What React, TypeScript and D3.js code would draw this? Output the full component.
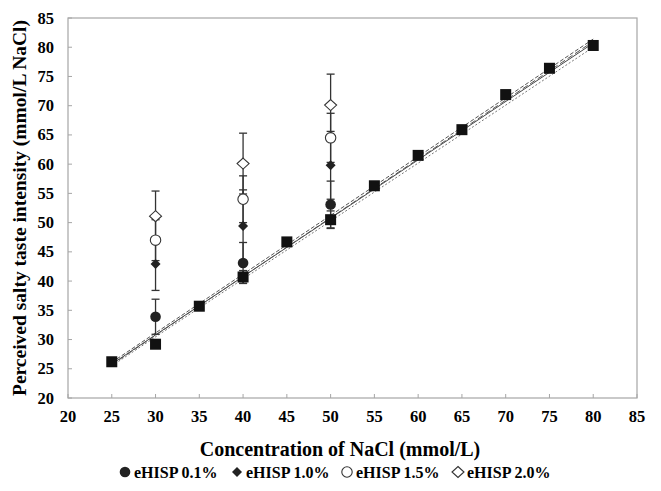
import React from "react";
import * as d3 from "d3";

// x positions (mmol/L NaCl)
const conc = [25, 30, 35, 40, 45, 50, 55, 60, 65, 70, 75, 80];
// NaCl control (filled squares)
const nacl = [26.2, 29.2, 35.7, 40.7, 46.7, 50.5, 56.3, 61.5, 65.9, 71.9, 76.4, 80.3];
const naclErr = [0, 0, 0, 1.1, 0, 1.5, 0, 0, 0, 0, 0, 0];

// eHISP series, measured only at 30, 40 and 50
const hispConc = [30, 40, 50];
const hisp01 = [33.9, 43.1, 53.1];
const hisp01Err = [3.0, 3.5, 4.0];
const hisp10 = [42.9, 49.4, 59.8];
const hisp10Err = [4.5, 6.2, 5.8];
const hisp15 = [47.0, 54.0, 64.5];
const hisp15Err = [3.5, 4.0, 4.2];
const hisp20 = [51.1, 60.1, 70.1];
const hisp20Err = [4.3, 5.2, 5.3];

// fitted lines (value at 25 and at 80)
const fitStart = [25.8, 26.1, 25.5, 25.7];
const fitEnd = [80.7, 81.4, 80.0, 81.0];

const xTicks = d3.range(20, 86, 5);
const yTicks = d3.range(20, 86, 5);

const legendLabels = ["eHISP 0.1%", "eHISP 1.0%", "eHISP 1.5%", "eHISP 2.0%"];

const FONT = "'Liberation Serif', 'Times New Roman', serif";

function Marker({ kind, x, y }: { kind: string; x: number; y: number }) {
  if (kind === "square")
    return <rect x={x - 5.5} y={y - 5.5} width={11} height={11} fill="#111" />;
  if (kind === "circle") return <circle cx={x} cy={y} r={5.3} fill="#222" />;
  if (kind === "diamond")
    return (
      <path d={`M${x},${y - 5}L${x + 5},${y}L${x},${y + 5}L${x - 5},${y}Z`} fill="#222" />
    );
  if (kind === "ocircle")
    return <circle cx={x} cy={y} r={5.2} fill="#fff" stroke="#333" strokeWidth={1.1} />;
  return (
    <path
      d={`M${x},${y - 5.5}L${x + 6},${y}L${x},${y + 5.5}L${x - 6},${y}Z`}
      fill="#fff"
      stroke="#333"
      strokeWidth={1.1}
    />
  );
}

export default function App() {
  const width = 661;
  const height = 491;
  const m = { left: 68, right: 637, top: 18, bottom: 398 };

  const x = d3.scaleLinear().domain([20, 85]).range([m.left, m.right]);
  const y = d3.scaleLinear().domain([20, 85]).range([m.bottom, m.top]);

  const series = [
    { kind: "circle", v: hisp01, e: hisp01Err },
    { kind: "diamond", v: hisp10, e: hisp10Err },
    { kind: "ocircle", v: hisp15, e: hisp15Err },
    { kind: "odiamond", v: hisp20, e: hisp20Err },
  ];

  const lineStyles = [
    { stroke: "#444", dash: "" },
    { stroke: "#555", dash: "4,2" },
    { stroke: "#777", dash: "2,2" },
    { stroke: "#555", dash: "6,3" },
  ];

  const errBar = (cx: number, v: number, e: number, key: string) => (
    <g key={key} stroke="#333" strokeWidth={1.3}>
      <line x1={x(cx)} x2={x(cx)} y1={y(v - e)} y2={y(v + e)} />
      <line x1={x(cx) - 4} x2={x(cx) + 4} y1={y(v - e)} y2={y(v - e)} />
      <line x1={x(cx) - 4} x2={x(cx) + 4} y1={y(v + e)} y2={y(v + e)} />
    </g>
  );

  const legendX = [125, 237, 347, 458];

  return (
    <svg
      width={width}
      height={height}
      style={{ position: "absolute", left: 0, top: 0, background: "#fff" }}
      fontFamily={FONT}
    >
      {/* frame */}
      <rect
        x={m.left}
        y={m.top}
        width={m.right - m.left}
        height={m.bottom - m.top}
        fill="none"
        stroke="#a6a6a6"
        strokeWidth={1.2}
      />

      {/* ticks */}
      {xTicks.map((t) => (
        <g key={"x" + t}>
          <line x1={x(t)} x2={x(t)} y1={m.bottom} y2={m.bottom - 4} stroke="#a6a6a6" />
          <text x={x(t)} y={422} textAnchor="middle" fontSize={16.5} fontWeight="bold">
            {t}
          </text>
        </g>
      ))}
      {yTicks.map((t) => (
        <g key={"y" + t}>
          <line x1={m.left} x2={m.left + 4} y1={y(t)} y2={y(t)} stroke="#a6a6a6" />
          <text x={54} y={y(t) + 5.5} textAnchor="end" fontSize={16.5} fontWeight="bold">
            {t}
          </text>
        </g>
      ))}

      {/* fitted lines */}
      {fitStart.map((s, i) => (
        <line
          key={"fit" + i}
          x1={x(25)}
          y1={y(s)}
          x2={x(80)}
          y2={y(fitEnd[i])}
          stroke={lineStyles[i].stroke}
          strokeWidth={1}
          strokeDasharray={lineStyles[i].dash}
        />
      ))}

      {/* error bars */}
      {conc.map((c, i) => (naclErr[i] > 0 ? errBar(c, nacl[i], naclErr[i], "ne" + i) : null))}
      {series.map((s, si) =>
        hispConc.map((c, i) => errBar(c, s.v[i], s.e[i], `e${si}-${i}`))
      )}

      {/* markers */}
      {conc.map((c, i) => (
        <Marker key={"sq" + i} kind="square" x={x(c)} y={y(nacl[i])} />
      ))}
      {series.map((s, si) =>
        hispConc.map((c, i) => <Marker key={`m${si}-${i}`} kind={s.kind} x={x(c)} y={y(s.v[i])} />)
      )}

      {/* axis titles */}
      <text x={340} y={456} textAnchor="middle" fontSize={20} fontWeight="bold">
        Concentration of NaCl (mmol/L)
      </text>
      <text
        transform={`translate(26,${(m.top + m.bottom) / 2}) rotate(-90)`}
        textAnchor="middle"
        fontSize={19.5}
        fontWeight="bold"
      >
        Perceived salty taste intensity (mmol/L NaCl)
      </text>

      {/* legend */}
      {series.map((s, i) => (
        <g key={"lg" + i}>
          <Marker kind={s.kind} x={legendX[i]} y={472} />
          <text x={legendX[i] + 9} y={478} fontSize={16} fontWeight="bold">
            {legendLabels[i]}
          </text>
        </g>
      ))}
    </svg>
  );
}
